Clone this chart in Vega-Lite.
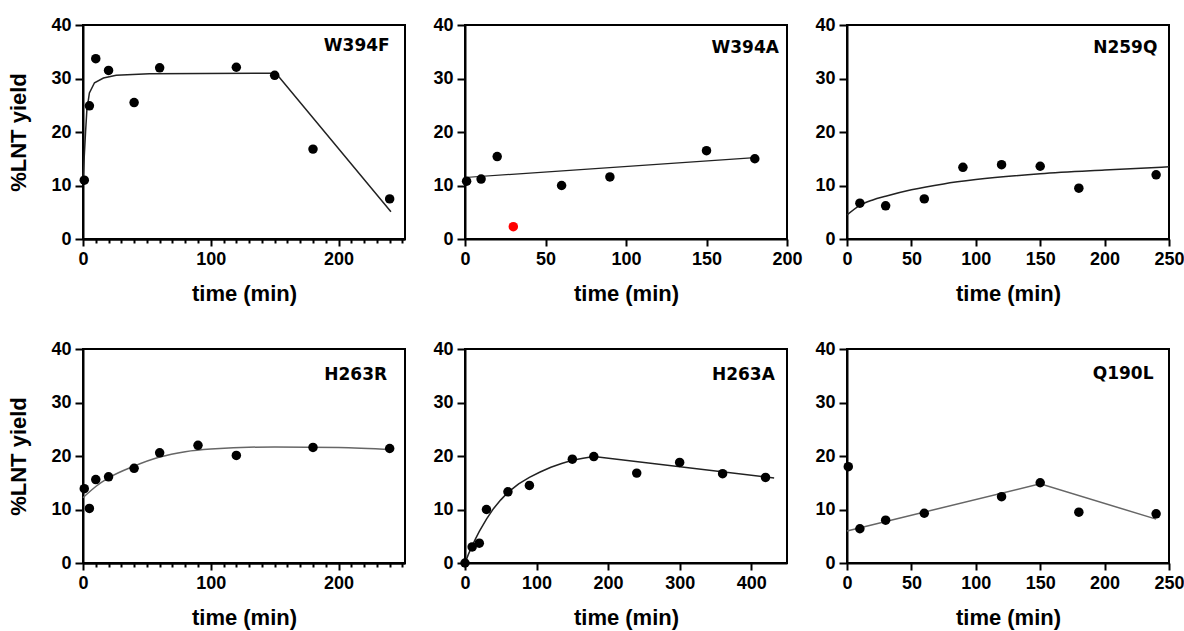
{
  "$schema": "https://vega.github.io/schema/vega-lite/v6.json",
  "background": "white",
  "padding": {"left": 6, "top": 15, "right": 0, "bottom": 5},
  "bounds": "flush",
  "spacing": {"row": 110, "column": 60},
  "columns": 3,
  "config": {
    "view": {"stroke": "black", "strokeWidth": 2},
    "axis": {
      "grid": false,
      "domainColor": "black", "domainWidth": 2,
      "tickColor": "black", "tickWidth": 2,
      "labelColor": "black", "labelFont": "Liberation Sans", "labelFontWeight": "bold", "labelFontSize": 18,
      "titleColor": "black", "titleFont": "Liberation Sans", "titleFontWeight": "bold", "titleFontSize": 22,
      "labelOverlap": false, "labelFlush": false
    },
    "axisX": {"labelPadding": 4, "titlePadding": 15},
    "axisY": {"tickSize": 8, "labelPadding": 4, "titlePadding": 20}
  },
  "datasets": {
    "pts": [
      {"panel": "W394F", "t": 1, "y": 11.0, "status": "used"},
      {"panel": "W394F", "t": 5, "y": 24.9, "status": "used"},
      {"panel": "W394F", "t": 10, "y": 33.7, "status": "used"},
      {"panel": "W394F", "t": 20, "y": 31.5, "status": "used"},
      {"panel": "W394F", "t": 40, "y": 25.5, "status": "used"},
      {"panel": "W394F", "t": 60, "y": 32.0, "status": "used"},
      {"panel": "W394F", "t": 120, "y": 32.1, "status": "used"},
      {"panel": "W394F", "t": 150, "y": 30.6, "status": "used"},
      {"panel": "W394F", "t": 180, "y": 16.8, "status": "used"},
      {"panel": "W394F", "t": 240, "y": 7.5, "status": "used"},
      {"panel": "W394A", "t": 1, "y": 10.8, "status": "used"},
      {"panel": "W394A", "t": 10, "y": 11.2, "status": "used"},
      {"panel": "W394A", "t": 20, "y": 15.4, "status": "used"},
      {"panel": "W394A", "t": 30, "y": 2.3, "status": "excluded"},
      {"panel": "W394A", "t": 60, "y": 10.0, "status": "used"},
      {"panel": "W394A", "t": 90, "y": 11.6, "status": "used"},
      {"panel": "W394A", "t": 150, "y": 16.5, "status": "used"},
      {"panel": "W394A", "t": 180, "y": 15.0, "status": "used"},
      {"panel": "N259Q", "t": 10, "y": 6.7, "status": "used"},
      {"panel": "N259Q", "t": 30, "y": 6.2, "status": "used"},
      {"panel": "N259Q", "t": 60, "y": 7.5, "status": "used"},
      {"panel": "N259Q", "t": 90, "y": 13.4, "status": "used"},
      {"panel": "N259Q", "t": 120, "y": 13.9, "status": "used"},
      {"panel": "N259Q", "t": 150, "y": 13.6, "status": "used"},
      {"panel": "N259Q", "t": 180, "y": 9.5, "status": "used"},
      {"panel": "N259Q", "t": 240, "y": 12.0, "status": "used"},
      {"panel": "H263R", "t": 1, "y": 13.9, "status": "used"},
      {"panel": "H263R", "t": 5, "y": 10.2, "status": "used"},
      {"panel": "H263R", "t": 10, "y": 15.6, "status": "used"},
      {"panel": "H263R", "t": 20, "y": 16.1, "status": "used"},
      {"panel": "H263R", "t": 40, "y": 17.7, "status": "used"},
      {"panel": "H263R", "t": 60, "y": 20.6, "status": "used"},
      {"panel": "H263R", "t": 90, "y": 22.0, "status": "used"},
      {"panel": "H263R", "t": 120, "y": 20.1, "status": "used"},
      {"panel": "H263R", "t": 180, "y": 21.6, "status": "used"},
      {"panel": "H263R", "t": 240, "y": 21.4, "status": "used"},
      {"panel": "H263A", "t": 0, "y": 0.0, "status": "used"},
      {"panel": "H263A", "t": 10, "y": 3.0, "status": "used"},
      {"panel": "H263A", "t": 20, "y": 3.7, "status": "used"},
      {"panel": "H263A", "t": 30, "y": 10.0, "status": "used"},
      {"panel": "H263A", "t": 60, "y": 13.3, "status": "used"},
      {"panel": "H263A", "t": 90, "y": 14.5, "status": "used"},
      {"panel": "H263A", "t": 150, "y": 19.4, "status": "used"},
      {"panel": "H263A", "t": 180, "y": 19.9, "status": "used"},
      {"panel": "H263A", "t": 240, "y": 16.8, "status": "used"},
      {"panel": "H263A", "t": 300, "y": 18.8, "status": "used"},
      {"panel": "H263A", "t": 360, "y": 16.7, "status": "used"},
      {"panel": "H263A", "t": 420, "y": 16.0, "status": "used"},
      {"panel": "Q190L", "t": 1, "y": 18.0, "status": "used"},
      {"panel": "Q190L", "t": 10, "y": 6.4, "status": "used"},
      {"panel": "Q190L", "t": 30, "y": 8.0, "status": "used"},
      {"panel": "Q190L", "t": 60, "y": 9.3, "status": "used"},
      {"panel": "Q190L", "t": 120, "y": 12.4, "status": "used"},
      {"panel": "Q190L", "t": 150, "y": 15.0, "status": "used"},
      {"panel": "Q190L", "t": 180, "y": 9.5, "status": "used"},
      {"panel": "Q190L", "t": 240, "y": 9.2, "status": "used"}
    ],
    "fit": [
      {"panel": "W394F", "t": 0, "y": 10.8},
      {"panel": "W394F", "t": 1, "y": 15.5},
      {"panel": "W394F", "t": 2, "y": 20.0},
      {"panel": "W394F", "t": 3, "y": 24.0},
      {"panel": "W394F", "t": 5, "y": 27.3},
      {"panel": "W394F", "t": 9, "y": 29.2},
      {"panel": "W394F", "t": 16, "y": 30.1},
      {"panel": "W394F", "t": 26, "y": 30.6},
      {"panel": "W394F", "t": 52, "y": 30.9},
      {"panel": "W394F", "t": 151, "y": 31.0},
      {"panel": "W394F", "t": 241, "y": 5.1},
      {"panel": "W394A", "t": 0, "y": 11.5},
      {"panel": "W394A", "t": 180, "y": 15.2},
      {"panel": "N259Q", "t": 0, "y": 4.5},
      {"panel": "N259Q", "t": 10, "y": 6.3},
      {"panel": "N259Q", "t": 20, "y": 7.3},
      {"panel": "N259Q", "t": 30, "y": 8.0},
      {"panel": "N259Q", "t": 50, "y": 9.2},
      {"panel": "N259Q", "t": 75, "y": 10.3},
      {"panel": "N259Q", "t": 100, "y": 11.1},
      {"panel": "N259Q", "t": 150, "y": 12.2},
      {"panel": "N259Q", "t": 200, "y": 12.9},
      {"panel": "N259Q", "t": 250, "y": 13.5},
      {"panel": "H263R", "t": 0, "y": 12.2},
      {"panel": "H263R", "t": 10, "y": 14.3},
      {"panel": "H263R", "t": 20, "y": 15.9},
      {"panel": "H263R", "t": 40, "y": 18.1},
      {"panel": "H263R", "t": 60, "y": 19.8},
      {"panel": "H263R", "t": 80, "y": 20.8},
      {"panel": "H263R", "t": 100, "y": 21.3},
      {"panel": "H263R", "t": 150, "y": 21.7},
      {"panel": "H263R", "t": 200, "y": 21.6},
      {"panel": "H263R", "t": 242, "y": 21.2},
      {"panel": "H263A", "t": 0, "y": 0.0},
      {"panel": "H263A", "t": 5, "y": 1.7},
      {"panel": "H263A", "t": 10, "y": 3.2},
      {"panel": "H263A", "t": 15, "y": 4.6},
      {"panel": "H263A", "t": 20, "y": 5.9},
      {"panel": "H263A", "t": 30, "y": 8.2},
      {"panel": "H263A", "t": 40, "y": 10.2},
      {"panel": "H263A", "t": 50, "y": 11.8},
      {"panel": "H263A", "t": 60, "y": 13.2},
      {"panel": "H263A", "t": 75, "y": 14.8},
      {"panel": "H263A", "t": 90, "y": 16.0},
      {"panel": "H263A", "t": 105, "y": 17.0},
      {"panel": "H263A", "t": 120, "y": 17.9},
      {"panel": "H263A", "t": 135, "y": 18.6},
      {"panel": "H263A", "t": 150, "y": 19.2},
      {"panel": "H263A", "t": 165, "y": 19.6},
      {"panel": "H263A", "t": 180, "y": 19.9},
      {"panel": "H263A", "t": 432, "y": 15.9},
      {"panel": "Q190L", "t": 0, "y": 6.0},
      {"panel": "Q190L", "t": 150, "y": 14.8},
      {"panel": "Q190L", "t": 240, "y": 8.2}
    ],
    "tags": [
      {"panel": "W394F", "name": "W394F"},
      {"panel": "W394A", "name": "W394A"},
      {"panel": "N259Q", "name": "N259Q"},
      {"panel": "H263R", "name": "H263R"},
      {"panel": "H263A", "name": "H263A"},
      {"panel": "Q190L", "name": "Q190L"}
    ]
  },
  "concat": [
    {
      "width": 322, "height": 214,
      "resolve": {"axis": {"x": "independent"}},
      "layer": [
        {"data": {"name": "fit"}, "transform": [{"filter": "datum.panel === 'W394F'"}],
         "mark": {"type": "line", "color": "#222222", "strokeWidth": 1.5},
         "encoding": {
           "x": {"field": "t", "type": "quantitative", "title": "time (min)",
                 "scale": {"domain": [0, 252], "nice": false, "zero": false},
                 "axis": {"orient": "bottom", "values": [0, 100, 200], "tickSize": 7}},
           "y": {"field": "y", "type": "quantitative", "title": "%LNT yield", "scale": {"domain": [0, 40], "nice": false},
                 "axis": {"values": [0, 10, 20, 30, 40]}}
         }},
        {"data": {"name": "pts"}, "transform": [{"filter": "datum.panel === 'W394F'"}],
         "mark": {"type": "point", "filled": true, "shape": "circle", "size": 90, "opacity": 1},
         "encoding": {
           "x": {"field": "t", "type": "quantitative", "title": null,
                 "axis": {"orient": "bottom", "values": [10,20,30,40,50,60,70,80,90,110,120,130,140,150,160,170,180,190,210,220,230,240,250], "labels": false, "tickSize": 4}},
           "y": {"field": "y", "type": "quantitative"},
           "color": {"field": "status", "type": "nominal", "scale": {"domain": ["used", "excluded"], "range": ["black", "#ff0000"]}, "legend": null}}},
        {"data": {"name": "tags"}, "transform": [{"filter": "datum.panel === 'W394F'"}],
         "mark": {"type": "text", "align": "right", "baseline": "alphabetic", "font": "DejaVu Sans", "fontWeight": "bold", "fontSize": 17, "fill": "black"},
         "encoding": {"text": {"field": "name", "type": "nominal"}, "x": {"datum": 240, "type": "quantitative", "axis": null}, "y": {"datum": 35.2, "type": "quantitative"}}}
      ]
    },
    {
      "width": 322, "height": 214,
      "layer": [
        {"data": {"name": "fit"}, "transform": [{"filter": "datum.panel === 'W394A'"}],
         "mark": {"type": "line", "color": "#222222", "strokeWidth": 1.2},
         "encoding": {
           "x": {"field": "t", "type": "quantitative", "title": "time (min)",
                 "scale": {"domain": [0, 200], "nice": false, "zero": false},
                 "axis": {"values": [0, 50, 100, 150, 200], "tickSize": 7}},
           "y": {"field": "y", "type": "quantitative", "title": null, "scale": {"domain": [0, 40], "nice": false},
                 "axis": {"values": [0, 10, 20, 30, 40]}}
         }},
        {"data": {"name": "pts"}, "transform": [{"filter": "datum.panel === 'W394A'"}],
         "mark": {"type": "point", "filled": true, "shape": "circle", "size": 90, "opacity": 1},
         "encoding": {"x": {"field": "t", "type": "quantitative"}, "y": {"field": "y", "type": "quantitative"},
           "color": {"field": "status", "type": "nominal", "scale": {"domain": ["used", "excluded"], "range": ["black", "#ff0000"]}, "legend": null}}},
        {"data": {"name": "tags"}, "transform": [{"filter": "datum.panel === 'W394A'"}],
         "mark": {"type": "text", "align": "right", "baseline": "alphabetic", "font": "DejaVu Sans", "fontWeight": "bold", "fontSize": 17, "fill": "black"},
         "encoding": {"text": {"field": "name", "type": "nominal"}, "x": {"datum": 195, "type": "quantitative"}, "y": {"datum": 34.8, "type": "quantitative"}}}
      ]
    },
    {
      "width": 322, "height": 214,
      "layer": [
        {"data": {"name": "fit"}, "transform": [{"filter": "datum.panel === 'N259Q'"}],
         "mark": {"type": "line", "color": "#222222", "strokeWidth": 1.5, "interpolate": "monotone"},
         "encoding": {
           "x": {"field": "t", "type": "quantitative", "title": "time (min)",
                 "scale": {"domain": [0, 250], "nice": false, "zero": false},
                 "axis": {"values": [0, 50, 100, 150, 200, 250], "tickSize": 7}},
           "y": {"field": "y", "type": "quantitative", "title": null, "scale": {"domain": [0, 40], "nice": false},
                 "axis": {"values": [0, 10, 20, 30, 40]}}
         }},
        {"data": {"name": "pts"}, "transform": [{"filter": "datum.panel === 'N259Q'"}],
         "mark": {"type": "point", "filled": true, "shape": "circle", "size": 90, "opacity": 1},
         "encoding": {"x": {"field": "t", "type": "quantitative"}, "y": {"field": "y", "type": "quantitative"},
           "color": {"field": "status", "type": "nominal", "scale": {"domain": ["used", "excluded"], "range": ["black", "#ff0000"]}, "legend": null}}},
        {"data": {"name": "tags"}, "transform": [{"filter": "datum.panel === 'N259Q'"}],
         "mark": {"type": "text", "align": "right", "baseline": "alphabetic", "font": "DejaVu Sans", "fontWeight": "bold", "fontSize": 17, "fill": "black"},
         "encoding": {"text": {"field": "name", "type": "nominal"}, "x": {"datum": 241, "type": "quantitative"}, "y": {"datum": 34.8, "type": "quantitative"}}}
      ]
    },
    {
      "width": 322, "height": 214,
      "resolve": {"axis": {"x": "independent"}},
      "layer": [
        {"data": {"name": "fit"}, "transform": [{"filter": "datum.panel === 'H263R'"}],
         "mark": {"type": "line", "color": "#666666", "strokeWidth": 1.5, "interpolate": "monotone"},
         "encoding": {
           "x": {"field": "t", "type": "quantitative", "title": "time (min)",
                 "scale": {"domain": [0, 252], "nice": false, "zero": false},
                 "axis": {"orient": "bottom", "values": [0, 100, 200], "tickSize": 7}},
           "y": {"field": "y", "type": "quantitative", "title": "%LNT yield", "scale": {"domain": [0, 40], "nice": false},
                 "axis": {"values": [0, 10, 20, 30, 40]}}
         }},
        {"data": {"name": "pts"}, "transform": [{"filter": "datum.panel === 'H263R'"}],
         "mark": {"type": "point", "filled": true, "shape": "circle", "size": 90, "opacity": 1},
         "encoding": {
           "x": {"field": "t", "type": "quantitative", "title": null,
                 "axis": {"orient": "bottom", "values": [10,20,30,40,50,60,70,80,90,110,120,130,140,150,160,170,180,190,210,220,230,240,250], "labels": false, "tickSize": 4}},
           "y": {"field": "y", "type": "quantitative"},
           "color": {"field": "status", "type": "nominal", "scale": {"domain": ["used", "excluded"], "range": ["black", "#ff0000"]}, "legend": null}}},
        {"data": {"name": "tags"}, "transform": [{"filter": "datum.panel === 'H263R'"}],
         "mark": {"type": "text", "align": "right", "baseline": "alphabetic", "font": "DejaVu Sans", "fontWeight": "bold", "fontSize": 17, "fill": "black"},
         "encoding": {"text": {"field": "name", "type": "nominal"}, "x": {"datum": 238, "type": "quantitative", "axis": null}, "y": {"datum": 34.2, "type": "quantitative"}}}
      ]
    },
    {
      "width": 322, "height": 214,
      "layer": [
        {"data": {"name": "fit"}, "transform": [{"filter": "datum.panel === 'H263A'"}],
         "mark": {"type": "line", "color": "#222222", "strokeWidth": 1.5},
         "encoding": {
           "x": {"field": "t", "type": "quantitative", "title": "time (min)",
                 "scale": {"domain": [0, 450], "nice": false, "zero": false},
                 "axis": {"values": [0, 100, 200, 300, 400], "tickSize": 7}},
           "y": {"field": "y", "type": "quantitative", "title": null, "scale": {"domain": [0, 40], "nice": false},
                 "axis": {"values": [0, 10, 20, 30, 40]}}
         }},
        {"data": {"name": "pts"}, "transform": [{"filter": "datum.panel === 'H263A'"}],
         "mark": {"type": "point", "filled": true, "shape": "circle", "size": 90, "opacity": 1},
         "encoding": {"x": {"field": "t", "type": "quantitative"}, "y": {"field": "y", "type": "quantitative"},
           "color": {"field": "status", "type": "nominal", "scale": {"domain": ["used", "excluded"], "range": ["black", "#ff0000"]}, "legend": null}}},
        {"data": {"name": "tags"}, "transform": [{"filter": "datum.panel === 'H263A'"}],
         "mark": {"type": "text", "align": "right", "baseline": "alphabetic", "font": "DejaVu Sans", "fontWeight": "bold", "fontSize": 17, "fill": "black"},
         "encoding": {"text": {"field": "name", "type": "nominal"}, "x": {"datum": 433, "type": "quantitative"}, "y": {"datum": 34.2, "type": "quantitative"}}}
      ]
    },
    {
      "width": 322, "height": 214,
      "layer": [
        {"data": {"name": "fit"}, "transform": [{"filter": "datum.panel === 'Q190L'"}],
         "mark": {"type": "line", "color": "#666666", "strokeWidth": 1.5},
         "encoding": {
           "x": {"field": "t", "type": "quantitative", "title": "time (min)",
                 "scale": {"domain": [0, 250], "nice": false, "zero": false},
                 "axis": {"values": [0, 50, 100, 150, 200, 250], "tickSize": 7}},
           "y": {"field": "y", "type": "quantitative", "title": null, "scale": {"domain": [0, 40], "nice": false},
                 "axis": {"values": [0, 10, 20, 30, 40]}}
         }},
        {"data": {"name": "pts"}, "transform": [{"filter": "datum.panel === 'Q190L'"}],
         "mark": {"type": "point", "filled": true, "shape": "circle", "size": 90, "opacity": 1},
         "encoding": {"x": {"field": "t", "type": "quantitative"}, "y": {"field": "y", "type": "quantitative"},
           "color": {"field": "status", "type": "nominal", "scale": {"domain": ["used", "excluded"], "range": ["black", "#ff0000"]}, "legend": null}}},
        {"data": {"name": "tags"}, "transform": [{"filter": "datum.panel === 'Q190L'"}],
         "mark": {"type": "text", "align": "right", "baseline": "alphabetic", "font": "DejaVu Sans", "fontWeight": "bold", "fontSize": 17, "fill": "black"},
         "encoding": {"text": {"field": "name", "type": "nominal"}, "x": {"datum": 238, "type": "quantitative"}, "y": {"datum": 34.4, "type": "quantitative"}}}
      ]
    }
  ]
}
